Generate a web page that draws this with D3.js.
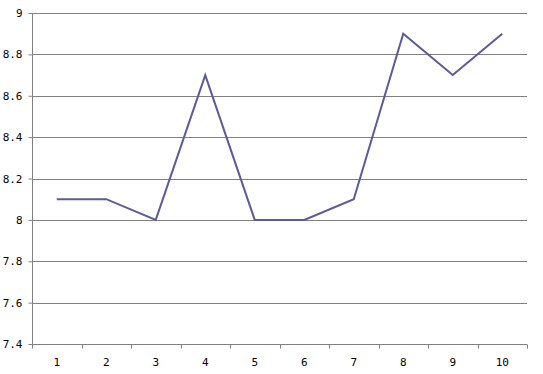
<!DOCTYPE html>
<html>
<head>
<meta charset="utf-8">
<script src="https://cdn.jsdelivr.net/npm/d3@7"></script>
<style>
  body { margin: 0; background: #fff; }
  .axis text { font-family: "DejaVu Sans Mono", monospace; font-size: 11px; fill: #000; }
</style>
</head>
<body>
<div id="chart"></div>
<script>
// chart data
var categories = ["1", "2", "3", "4", "5", "6", "7", "8", "9", "10"];
var values = [8.1, 8.1, 8, 8.7, 8, 8, 8.1, 8.9, 8.7, 8.9];
var yTicks = [7.4, 7.6, 7.8, 8, 8.2, 8.4, 8.6, 8.8, 9];

var margin = { top: 13, right: 16, bottom: 30, left: 32 },
  width = 543 - margin.left - margin.right,
  height = 374 - margin.top - margin.bottom;

var svg = d3
  .select("#chart")
  .append("svg")
  .attr("width", 543)
  .attr("height", 374)
  .append("g")
  .attr("transform", "translate(" + margin.left + "," + margin.top + ")");

var x = d3.scaleBand().domain(categories).range([0, width]);
var y = d3.scaleLinear().domain([7.4, 9]).range([height, 0]);

// gridlines
svg
  .selectAll(".grid")
  .data(yTicks)
  .enter()
  .append("line")
  .attr("x1", 0)
  .attr("x2", width)
  .attr("y1", function (d) { return Math.round(y(d)) + 0.5; })
  .attr("y2", function (d) { return Math.round(y(d)) + 0.5; })
  .attr("stroke", "#808080")
  .attr("stroke-width", 1);

// Y axis
var yAxis = svg
  .append("g")
  .attr("class", "axis")
  .attr("transform", "translate(0.5,0)")
  .call(d3.axisLeft(y).tickValues(yTicks).tickSize(4).tickPadding(6).tickFormat(function (d) { return String(+d.toFixed(1)); }));
yAxis.selectAll("line").attr("stroke", "#808080");
yAxis.select(".domain").attr("stroke", "#808080").attr("d", "M0," + height + "V0");

// X axis with tick marks at band edges
var xAxis = svg
  .append("g")
  .attr("class", "axis")
  .attr("transform", "translate(0," + (Math.round(height) + 0.5) + ")");
xAxis
  .append("line")
  .attr("x1", 0)
  .attr("x2", width)
  .attr("stroke", "#808080");
xAxis
  .selectAll(".tk")
  .data(categories.concat(["end"]))
  .enter()
  .append("line")
  .attr("x1", function (d, i) { return Math.round(i < categories.length ? x(d) : width) + 0.5; })
  .attr("x2", function (d, i) { return Math.round(i < categories.length ? x(d) : width) + 0.5; })
  .attr("y1", 0)
  .attr("y2", 4)
  .attr("stroke", "#808080");
xAxis
  .selectAll("text")
  .data(categories)
  .enter()
  .append("text")
  .attr("x", function (d) { return x(d) + x.bandwidth() / 2; })
  .attr("y", 21)
  .attr("text-anchor", "middle")
  .text(function (d) { return d; });

// line
var line = d3
  .line()
  .x(function (d, i) { return x(categories[i]) + x.bandwidth() / 2; })
  .y(function (d) { return y(d); });

svg
  .append("path")
  .datum(values)
  .attr("fill", "none")
  .attr("stroke", "#5b5b9b")
  .attr("stroke-width", 2)
  .attr("d", line);
</script>
</body>
</html>
